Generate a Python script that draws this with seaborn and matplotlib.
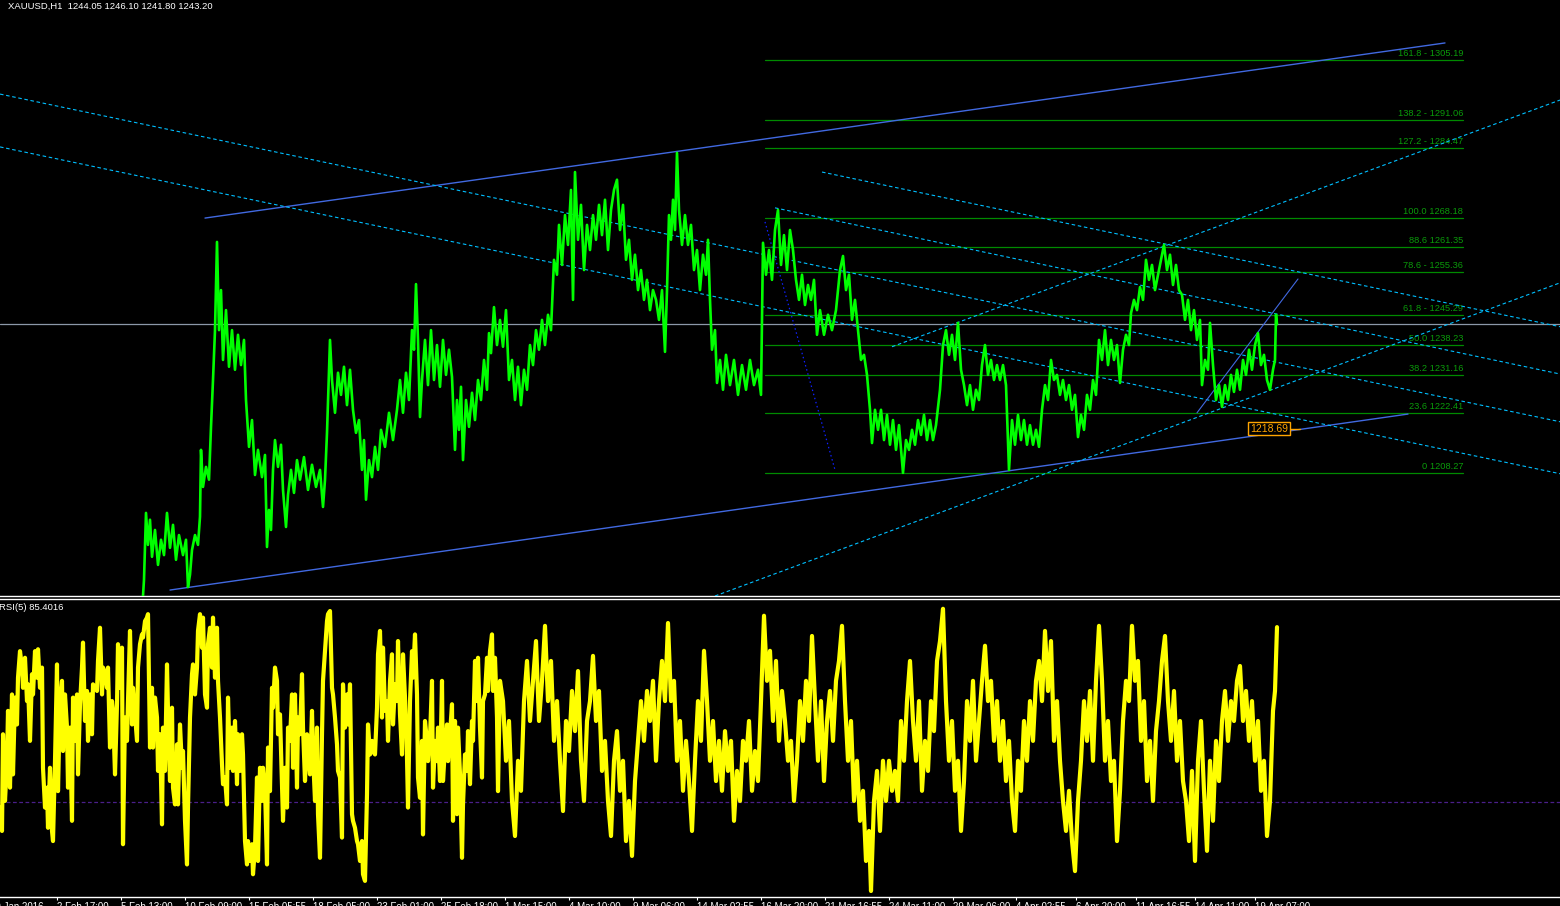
import numpy as np
import pandas as pd
import matplotlib
matplotlib.use("Agg")
import matplotlib.pyplot as plt
import matplotlib.transforms as mtransforms
import seaborn as sns

sns.set_theme(style="dark", rc={"axes.facecolor": "black", "figure.facecolor": "black",
                                "axes.grid": False})
plt.rcParams['font.family'] = ['Liberation Sans', 'DejaVu Sans']

# ---------------- price (XAUUSD H1), bar index and price ----------------
price_bar = [143,144,146,148,150,152,155,158,161,164,167,170,173,176,179,183,186,188,190,192,195,198,200,201,203,206,209,211,213,215,217,219,221,223,226,229,232,235,238,241,244,246,249,252,255,258,262,265,267,269,271,273,275,278,281,283,286,288,291,294,297,300,304,308,312,316,320,323,325,327,330,332,335,338,341,344,347,350,353,356,359,362,364,366,369,372,375,378,381,385,389,393,397,400,403,406,409,412,414,416,418,420,422,425,428,431,434,437,440,443,446,449,452,455,457,459,461,463,466,469,472,475,478,481,484,487,489,491,494,497,500,503,506,509,512,515,518,521,524,527,530,533,536,539,542,545,548,551,554,557,559,562,565,568,571,573,575,578,581,584,587,590,593,596,599,602,605,608,611,614,617,620,623,626,629,632,635,638,641,644,647,650,653,656,659,662,665,667,669,671,673,675,677,679,682,685,688,691,694,697,700,703,706,708,710,712,715,717,720,723,726,730,734,738,742,746,750,754,758,761,763,766,769,772,775,778,781,784,787,790,793,796,799,802,805,808,811,814,817,820,824,828,832,836,840,843,846,849,852,855,858,861,864,867,870,872,875,878,881,884,887,890,893,896,899,903,906,909,912,915,918,921,924,927,930,933,936,940,943,946,949,952,955,958,961,964,967,970,973,976,979,982,985,988,991,994,997,1000,1003,1006,1009,1012,1015,1018,1021,1024,1027,1030,1033,1036,1039,1042,1045,1048,1051,1054,1057,1060,1063,1066,1069,1072,1075,1078,1081,1084,1087,1090,1093,1096,1099,1102,1105,1108,1111,1114,1117,1120,1123,1126,1129,1131,1134,1137,1140,1143,1146,1149,1152,1155,1158,1161,1164,1167,1170,1173,1176,1179,1182,1185,1188,1191,1194,1197,1200,1202,1205,1208,1210,1213,1216,1219,1222,1225,1228,1231,1234,1237,1240,1243,1246,1249,1252,1255,1258,1261,1264,1267,1270,1273,1275,1276,1277]
price_val = [1179.4,1183.2,1198.9,1191.4,1197.3,1188.6,1194.9,1186.7,1192.6,1189.0,1198.9,1190.7,1196.1,1187.9,1193.7,1189.0,1192.6,1181.5,1184.4,1190.2,1193.7,1191.4,1198.0,1213.7,1205.0,1209.7,1206.7,1219.1,1230.1,1241.8,1262.5,1241.8,1251.2,1234.8,1246.5,1233.2,1241.8,1232.5,1240.7,1233.6,1239.5,1225.4,1214.4,1220.7,1207.8,1213.7,1207.3,1212.5,1190.9,1199.6,1194.9,1209.0,1216.0,1209.7,1214.9,1204.3,1195.6,1203.1,1209.0,1203.6,1211.3,1206.7,1212.0,1204.3,1210.2,1205.0,1209.0,1200.3,1206.7,1217.7,1239.5,1230.1,1222.4,1231.8,1226.6,1233.2,1224.2,1232.5,1223.1,1217.7,1220.7,1209.0,1216.0,1202.0,1211.3,1207.3,1214.4,1209.0,1218.4,1214.4,1222.4,1216.0,1223.1,1230.1,1222.4,1231.8,1225.4,1241.8,1237.2,1252.6,1239.5,1221.4,1230.1,1239.5,1228.9,1241.8,1230.1,1238.3,1228.5,1239.5,1231.3,1237.2,1230.8,1213.7,1225.4,1218.4,1228.5,1211.3,1225.4,1219.1,1227.1,1220.7,1230.1,1225.4,1234.8,1227.8,1241.1,1236.4,1247.2,1238.3,1244.2,1237.9,1246.5,1230.1,1234.8,1225.4,1233.2,1224.2,1232.5,1227.8,1238.3,1233.6,1241.8,1237.2,1244.2,1238.3,1245.4,1241.8,1258.3,1254.8,1266.5,1257.1,1268.8,1261.8,1274.7,1248.9,1278.9,1263.0,1271.2,1255.9,1266.5,1260.6,1268.8,1263.0,1271.2,1264.1,1272.4,1260.6,1270.0,1274.7,1277.1,1265.3,1271.2,1258.3,1263.0,1253.6,1259.5,1251.2,1255.9,1248.9,1253.6,1246.5,1251.2,1248.9,1244.2,1251.2,1236.7,1251.2,1268.8,1263.0,1272.4,1265.3,1283.4,1270.0,1261.8,1268.8,1261.8,1266.5,1255.9,1260.6,1251.2,1259.5,1254.8,1263.0,1248.9,1237.2,1241.8,1229.4,1234.8,1227.8,1236.0,1228.9,1234.8,1226.6,1233.6,1227.8,1234.8,1228.9,1232.5,1226.6,1262.3,1254.8,1260.6,1253.6,1265.3,1270.0,1257.1,1264.1,1255.9,1265.3,1260.6,1253.6,1248.9,1254.8,1247.7,1252.4,1248.9,1253.6,1240.7,1246.5,1240.7,1245.4,1241.8,1246.5,1255.9,1259.2,1251.2,1254.8,1244.2,1248.9,1241.8,1234.8,1236.0,1231.3,1223.1,1215.3,1223.1,1218.4,1223.1,1216.0,1221.9,1214.9,1220.7,1213.7,1219.5,1208.3,1216.0,1213.7,1218.4,1214.9,1220.7,1217.2,1221.9,1216.0,1220.7,1216.0,1219.5,1227.8,1238.3,1241.8,1236.0,1240.7,1234.8,1243.5,1232.5,1228.9,1224.2,1228.9,1223.1,1227.8,1225.4,1233.6,1238.3,1231.3,1234.8,1230.1,1233.6,1230.1,1233.6,1228.9,1209.0,1220.7,1214.9,1221.9,1216.0,1220.7,1214.9,1219.5,1214.9,1218.4,1214.4,1223.1,1228.9,1225.4,1234.8,1230.1,1231.3,1226.6,1230.1,1225.4,1228.9,1223.1,1226.6,1216.7,1221.9,1218.4,1226.6,1223.1,1230.1,1226.6,1239.5,1234.8,1241.8,1233.6,1239.5,1234.8,1238.3,1229.4,1237.2,1240.7,1238.3,1245.8,1248.9,1246.5,1251.9,1248.9,1258.3,1253.6,1257.1,1251.2,1254.8,1258.3,1261.8,1255.9,1259.5,1252.4,1257.1,1251.2,1250.1,1244.2,1248.9,1241.8,1246.5,1239.5,1244.2,1228.9,1234.8,1232.5,1243.5,1233.6,1225.4,1228.9,1223.8,1228.9,1225.4,1231.3,1227.3,1232.5,1227.8,1234.8,1231.3,1237.2,1232.5,1238.3,1241.1,1233.6,1236.0,1230.1,1227.8,1232.5,1234.8,1245.4,1243.2]
bid_price = 1243.20

# ---------------- RSI(5) ----------------
rsi_bar = [0,2,3,5,7,8,10,12,13,15,17,18,20,22,23,25,27,28,30,32,33,35,37,38,40,42,43,45,47,48,50,52,53,55,57,58,60,62,63,65,67,68,70,72,73,75,77,78,80,82,83,85,87,88,90,92,93,97,98,100,102,103,105,107,108,110,112,113,115,117,118,120,122,123,125,127,128,130,132,133,135,137,138,140,142,143,145,147,148,150,152,153,155,157,158,160,162,163,165,167,168,170,172,173,175,177,178,180,182,183,185,187,188,190,192,193,195,197,198,200,202,203,205,207,208,210,212,213,215,217,218,220,222,223,225,227,228,230,232,233,235,237,238,240,242,243,245,247,248,250,252,253,255,257,258,260,262,263,265,267,268,270,272,273,275,277,278,280,282,283,285,287,288,290,292,293,295,297,298,300,302,303,305,307,308,310,312,313,315,317,318,320,322,323,325,327,328,330,332,333,335,337,338,340,342,343,345,347,348,350,352,353,355,357,358,360,362,363,365,367,368,370,372,373,375,377,378,380,382,383,385,387,388,390,392,393,395,397,398,400,402,403,405,407,408,410,412,413,415,417,418,420,422,423,425,427,428,430,432,433,435,437,438,440,442,443,445,447,448,450,452,453,455,457,458,460,462,463,465,467,468,470,472,473,475,477,478,480,482,483,485,487,488,490,492,493,495,497,498,500,503,506,509,512,515,518,521,524,527,530,533,536,539,542,545,548,551,554,557,560,563,566,569,572,575,578,581,584,587,590,593,596,599,602,605,608,611,614,617,620,623,626,629,632,635,638,641,644,647,650,653,656,659,662,665,668,671,674,677,680,683,686,689,692,695,698,701,704,707,710,713,716,719,722,725,728,731,734,737,740,743,746,749,752,755,758,761,764,767,770,773,776,779,782,785,788,791,794,797,800,803,806,809,812,815,818,821,824,827,830,833,836,839,842,845,848,851,854,857,860,863,866,869,871,874,877,880,883,886,889,892,895,898,901,904,907,910,913,916,919,922,925,928,931,934,937,940,943,946,949,952,955,958,961,964,967,970,973,976,979,982,985,988,991,994,997,1000,1003,1006,1009,1012,1015,1018,1021,1024,1027,1030,1033,1036,1039,1042,1045,1048,1051,1054,1057,1060,1063,1066,1069,1072,1075,1078,1081,1084,1087,1090,1093,1096,1099,1102,1105,1108,1111,1114,1117,1120,1123,1126,1129,1132,1135,1138,1141,1144,1147,1150,1153,1156,1159,1162,1165,1168,1171,1174,1177,1180,1183,1186,1189,1192,1195,1198,1201,1204,1207,1210,1213,1216,1219,1222,1225,1228,1231,1234,1237,1240,1243,1246,1249,1252,1255,1258,1261,1264,1267,1270,1273,1275,1277]
rsi_val = [28.3,20.9,51.5,30.4,43.0,58.9,34.6,64.1,38.8,63.1,54.6,69.4,77.8,72.6,66.2,75.7,62.0,67.3,49.4,70.5,64.1,77.8,69.4,78.4,66.2,72.6,40.9,28.3,34.6,21.9,40.9,20.9,17.7,43.0,73.6,33.5,62.0,68.4,46.2,64.1,53.6,34.6,53.6,24.1,63.1,49.4,64.1,38.8,61.0,72.6,80.5,55.7,65.2,49.4,64.1,51.5,67.3,65.2,74.7,85.2,64.1,72.6,70.5,66.2,72.6,47.3,62.0,58.9,38.8,61.0,80.0,66.2,78.9,16.7,56.8,49.4,62.0,84.2,54.6,66.2,57.8,49.4,72.6,80.0,83.1,82.1,87.3,88.4,89.5,47.3,66.2,47.3,63.1,56.8,39.9,51.5,23.0,53.6,39.9,73.6,58.9,36.7,59.9,34.6,29.3,48.3,29.3,54.6,40.9,46.2,24.1,10.3,28.3,56.8,70.5,73.6,64.1,72.6,84.2,89.5,78.9,88.4,64.1,59.9,80.0,85.2,72.6,88.4,69.4,85.2,68.4,56.8,42.0,35.7,37.8,29.3,63.1,40.9,53.6,39.9,55.7,35.7,51.5,39.9,51.5,45.1,17.7,10.3,17.7,11.4,16.7,7.2,15.6,37.8,11.4,40.9,30.4,40.9,34.6,10.3,47.3,33.5,66.2,59.9,72.6,68.4,51.5,57.8,35.7,24.1,40.9,28.3,53.6,49.4,64.1,40.9,64.1,34.6,56.8,51.5,70.5,53.6,36.7,51.5,46.2,38.8,58.9,45.1,30.4,53.6,26.2,12.4,51.5,68.4,77.8,87.3,89.5,90.5,66.2,64.1,56.8,48.3,39.9,37.8,18.8,67.3,53.6,64.1,54.6,67.3,26.2,24.1,21.9,17.7,16.7,11.4,17.7,7.2,5.1,32.5,54.6,45.1,49.4,46.2,45.1,59.9,76.8,84.2,56.8,78.9,58.9,62.0,49.4,68.4,76.8,54.6,67.3,62.0,81.0,57.8,45.1,76.8,63.1,44.1,28.3,62.0,77.8,69.4,83.1,64.1,37.8,31.4,49.4,19.8,55.7,49.4,43.0,50.4,68.4,34.6,49.4,43.0,53.6,36.7,68.4,36.7,47.3,54.6,43.0,51.5,61.0,24.1,55.7,26.2,53.6,38.8,12.4,29.3,45.1,39.9,52.5,35.7,55.7,49.4,74.7,62.0,75.7,53.6,37.8,62.0,64.1,75.7,65.2,77.8,83.1,65.2,75.7,56.8,33.5,68.4,62.0,43.1,55.7,30.4,19.3,43.1,33.6,62.0,74.7,55.7,68.4,81.0,55.7,68.4,85.8,62.0,74.7,49.4,62.0,43.1,27.2,55.7,46.2,65.2,52.5,71.5,43.1,30.4,55.7,62.0,76.3,55.7,65.2,39.9,49.4,30.4,19.3,43.1,52.5,33.6,43.1,17.7,30.4,13.0,36.7,49.4,62.0,49.4,65.2,55.7,68.4,43.1,62.0,74.7,62.0,86.7,62.0,68.4,43.1,55.7,33.6,49.4,36.7,20.9,43.1,62.0,49.4,77.9,62.0,43.1,55.7,36.7,49.4,33.6,52.5,39.9,49.4,24.1,39.9,30.4,49.4,43.1,55.7,33.6,46.2,36.7,62.0,89.0,68.4,77.9,55.7,74.7,49.4,65.2,55.7,43.1,49.4,30.4,43.1,62.0,49.4,68.4,55.7,82.6,62.0,43.1,62.0,36.7,55.7,65.2,49.4,68.4,74.7,85.8,62.0,43.1,55.7,30.4,43.1,24.1,33.6,11.4,20.9,1.9,30.4,39.9,20.9,43.1,30.4,43.1,33.6,39.9,30.4,55.7,43.1,62.0,74.7,55.7,43.1,62.0,33.6,49.4,39.9,62.0,52.5,74.7,81.0,91.2,62.0,43.1,55.7,33.6,43.1,20.9,36.7,62.0,49.4,68.4,43.1,55.7,68.4,79.5,62.0,68.4,49.4,62.0,43.1,55.7,36.7,49.4,30.4,20.9,43.1,33.6,55.7,43.1,62.0,49.4,68.4,74.7,62.0,84.2,65.2,81.0,49.4,62.0,43.1,30.4,20.9,33.6,17.7,8.2,30.4,43.1,62.0,49.4,65.2,43.1,68.4,85.8,68.4,43.1,55.7,36.7,43.1,17.7,33.6,55.7,68.4,62.0,85.8,68.4,74.7,49.4,62.0,36.7,49.4,30.4,52.5,62.0,74.7,82.6,62.0,49.4,65.2,43.1,55.7,36.7,30.4,17.7,39.9,11.4,43.1,55.7,33.6,14.6,43.1,24.1,49.4,36.7,55.7,65.2,49.4,62.0,55.7,68.4,73.1,55.7,65.2,49.4,62.0,43.1,55.7,33.6,43.1,19.3,30.4,58.9,65.2,85.4]
rsi_last = 85.4016
rsi_level = 30

# ---------------- Fibonacci retracement ----------------
fib_ratio = ["0", "23.6", "38.2", "50.0", "61.8", "78.6", "88.6", "100.0", "127.2", "138.2", "161.8"]
fib_price = [1208.27, 1222.41, 1231.16, 1238.23, 1245.29, 1255.36, 1261.35, 1268.18, 1284.47, 1291.06, 1305.19]
fib_dash = [False, False, False, False, True, True, False, False, True, True, True]
fib_bars = (765, 1463)

# ---------------- trend lines: (bar1, price1, bar2, price2) ----------------
solid_lines = [(205, 1268.1, 1445, 1309.2), (170, 1180.8, 1408, 1222.1)]
dotted_lines = [(0, 1297.2, 1560, 1220.3), (0, 1284.8, 1560, 1208.1),
                (822, 1278.9, 1560, 1242.6), (775, 1270.5, 1560, 1231.5),
                (892, 1237.9, 1560, 1295.8), (715, 1179.4, 1560, 1252.9)]
steep_line = (765, 1267.2, 835, 1209.0)
thin_line = (1197, 1222.4, 1298, 1253.8)
label_price = 1218.69
label_bar = 1269

tick_bars = [57, 121, 185, 249, 313, 377, 441, 505, 569, 633, 697, 761, 825, 889, 953,
             1016, 1076, 1136, 1195, 1255]
tick_text = ["2 Feb 17:00", "5 Feb 13:00", "10 Feb 09:00", "15 Feb 05:55", "18 Feb 05:00",
             "23 Feb 01:00", "25 Feb 18:00", "1 Mar 15:00", "4 Mar 10:00", "9 Mar 06:00",
             "14 Mar 02:55", "16 Mar 20:00", "21 Mar 16:55", "24 Mar 11:00", "29 Mar 06:00",
             "4 Apr 02:55", "6 Apr 20:00", "11 Apr 16:55", "14 Apr 11:00", "19 Apr 07:00"]
first_label = "29 Jan 2016"

# ---------------- figure ----------------
W, H = 1560, 906
fig = plt.figure(figsize=(W / 100, H / 100), dpi=100, facecolor="black")
ax = fig.add_axes([0, (H - 596) / H, 1, 596 / H], facecolor="black")
ax2 = fig.add_axes([0, (H - 897) / H, 1, 298 / H], facecolor="black")

GREEN = "#008a00"
CYAN = "#00BFFF"
ROYAL = "#4169E1"

# fib
for r, p, d in zip(fib_ratio, fib_price, fib_dash):
    ax.plot(list(fib_bars), [p, p], color=GREEN, lw=0.9, zorder=1)
    txt = f"{r} - {p:.2f}" if d else f"{r} {p:.2f}"
    ax.annotate(txt, xy=(fib_bars[1], p), xytext=(0, 1.5), textcoords="offset points",
                ha="right", va="bottom", color="#0a9a0a", fontsize=6.7, zorder=2)

# bid line
ax.axhline(bid_price, color="#8c98a8", lw=0.9, zorder=1)

# trend lines
for b1, p1, b2, p2 in solid_lines:
    ax.plot([b1, b2], [p1, p2], color=ROYAL, lw=1.0, zorder=3)
for b1, p1, b2, p2 in dotted_lines:
    ax.plot([b1, b2], [p1, p2], color=CYAN, lw=0.8, ls=(0, (3.2, 2.4)), zorder=3)
ax.plot([steep_line[0], steep_line[2]], [steep_line[1], steep_line[3]], color="#1020ff",
        lw=0.9, ls=(0, (1.2, 2.2)), zorder=3)
ax.plot([thin_line[0], thin_line[2]], [thin_line[1], thin_line[3]], color=ROYAL, lw=0.8, zorder=3)

# price
df_p = pd.DataFrame({"bar": price_bar, "price": price_val})
sns.lineplot(data=df_p, x="bar", y="price", ax=ax, color="#00FF00", lw=1.9,
             estimator=None, sort=False, zorder=4)

# orange price label
ax.plot([label_bar + 21, label_bar + 31], [label_price, label_price], color="#FFA500", lw=1, zorder=5)
ax.text(label_bar, label_price, f"{label_price:.2f}", color="#FFA500", fontsize=7.5,
        ha="center", va="center", zorder=6,
        bbox=dict(boxstyle="square,pad=0.18", facecolor="black", edgecolor="#FFA500", lw=1))

ax.set_xlim(0, W)
ax.set_ylim(1179.40, 1319.28)
ax.set_xticks([]); ax.set_yticks([])
ax.set_xlabel(""); ax.set_ylabel("")
for s in ["top", "left", "right"]:
    ax.spines[s].set_visible(False)
ax.spines["bottom"].set_color("white"); ax.spines["bottom"].set_linewidth(1.0)

# RSI
df_r = pd.DataFrame({"bar": rsi_bar, "rsi": rsi_val})
ax2.axhline(rsi_level, color="#4a1f8a", lw=0.9, ls=(0, (3, 2)), zorder=1)
sns.lineplot(data=df_r, x="bar", y="rsi", ax=ax2, color="#FFFF00", lw=3.0,
             estimator=None, sort=False, zorder=3)
ax2.set_xlim(0, W)
ax2.set_ylim(0, 94.3)
ax2.set_yticks([])
ax2.set_xlabel(""); ax2.set_ylabel("")
for s in ["left", "right"]:
    ax2.spines[s].set_visible(False)
for s in ["top", "bottom"]:
    ax2.spines[s].set_color("white"); ax2.spines[s].set_linewidth(1.0)
ax2.set_xticks(tick_bars)
ax2.set_xticklabels(tick_text, fontsize=7, color="white")
ax2.tick_params(axis="x", colors="white", direction="out", length=2.5, width=0.8, pad=1.0,
                bottom=True)
for lbl in ax2.get_xticklabels():
    lbl.set_ha("left")
    lbl.set_color("white")
trans = mtransforms.blended_transform_factory(ax2.transData, ax2.transAxes)
ax2.text(-10, -0.017, first_label, transform=trans, ha="left", va="top", fontsize=7,
         color="white", clip_on=False)

# header texts
fig.text(8 / W, 1 - 6 / H, "XAUUSD,H1  1244.05 1246.10 1241.80 1243.20", color="white",
         fontsize=6.8, ha="left", va="center")
fig.text(-1 / W, 1 - 607 / H, f"RSI(5) {rsi_last:.4f}", color="white", fontsize=6.8,
         ha="left", va="center")

fig.savefig("out.png", dpi=100, facecolor="black")
